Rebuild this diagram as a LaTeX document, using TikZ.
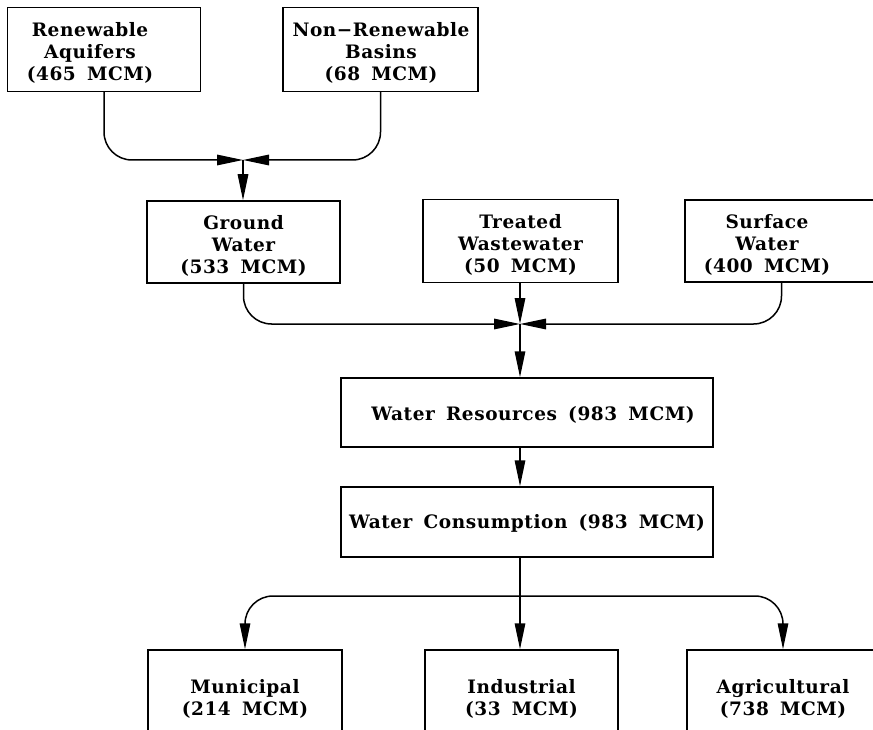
\documentclass[tikz,border=0pt]{standalone}
\usepackage{fontspec}
\newfontfamily\lbfamily[WordSpace=1.6,LetterSpace=3]{DejaVu Serif}
\usetikzlibrary{arrows.meta}
\tikzset{
  box/.style={draw, line width=1.5pt, inner sep=0pt},
  lbl/.style={font=\lbfamily\bfseries\fontsize{18.5}{22}\selectfont, align=center, inner sep=0pt},
  conn/.style={line width=1.5pt},
  arr/.style={-{Triangle[length=26pt,width=10.5pt]}},
  curved/.style={rounded corners=28pt}
}
\begin{document}
\begin{tikzpicture}[x=1pt,y=-1pt]
\clip (0,0) rectangle (873,730);
\fill[white] (0,0) rectangle (873,730);
% boxes
\node[box, minimum width=193pt, minimum height=84pt] (ra) at (104,49.5) {};
\node[lbl] (rat) at (90,53) {Renewable\\Aquifers\\(465 MCM)};
\node[box, minimum width=195pt, minimum height=84pt] (nrb) at (380.5,49.5) {};
\node[lbl] (nrbt) at (381,53) {Non−Renewable\\Basins\\(68 MCM)};
\node[box, minimum width=193pt, minimum height=82pt] (gw) at (243.5,242) {};
\node[lbl] (gwt) at (243.5,246) {Ground\\Water\\(533 MCM)};
\node[box, minimum width=195pt, minimum height=83pt] (tw) at (520.5,241) {};
\node[lbl] (twt) at (520.5,245) {Treated\\Wastewater\\(50 MCM)};
\node[box, minimum width=193pt, minimum height=82pt] (sw) at (781.5,241) {};
\node[lbl] (swt) at (767,245) {Surface\\Water\\(400 MCM)};
\node[box, minimum width=372pt, minimum height=69pt] (wr) at (527,412.5) {};
\node[lbl] (wrt) at (533,415) {Water Resources (983 MCM)};
\node[box, minimum width=372pt, minimum height=70pt] (wc) at (527,522) {};
\node[lbl] (wct) at (527,523) {Water Consumption (983 MCM)};
\node[box, minimum width=194pt, minimum height=96pt] (mu) at (245,698) {};
\node[lbl] (mut) at (245,699) {Municipal\\(214 MCM)};
\node[box, minimum width=193pt, minimum height=96pt] (in) at (521.5,698) {};
\node[lbl] (int) at (521.5,699) {Industrial\\(33 MCM)};
\node[box, minimum width=192pt, minimum height=96pt] (ag) at (783,698) {};
\node[lbl] (agt) at (783,699) {Agricultural\\(738 MCM)};
% junctions
\coordinate (j1) at (243,160);
\coordinate (j2) at (520,324);
\coordinate (j3) at (520,596);
% connectors
\draw[conn, curved, arr] (ra.south) |- (j1);
\draw[conn, curved, arr] (nrb.south) |- (j1);
\draw[conn, arr] (j1) -- (j1 |- gw.north);
\draw[conn, curved, arr] (gw.south) |- (j2);
\draw[conn, curved, arr] (sw.south) |- (j2);
\draw[conn, arr] (tw.south -| j2) -- (j2);
\draw[conn, arr] (j2) -- (j2 |- wr.north);
\draw[conn, arr] (wr.south -| j2) -- (wc.north -| j2);
\draw[conn, arr] (wc.south -| j3) -- (j3 |- in.north);
\draw[conn, curved, arr] (j3) -| (mu.north);
\draw[conn, curved, arr] (j3) -| (ag.north);
\end{tikzpicture}
\end{document}
